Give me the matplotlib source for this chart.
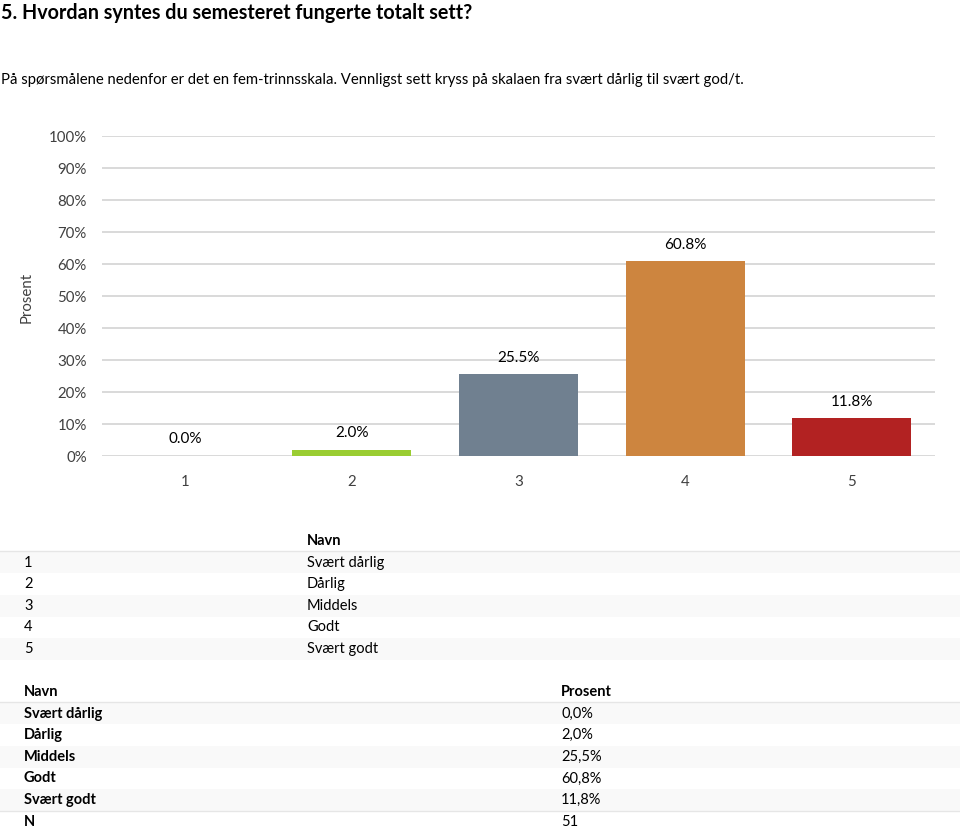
#!/usr/bin/env python3
"""Semester evaluation question 5: bar chart plus two summary tables -> out.png."""
import matplotlib
matplotlib.use("Agg")
import matplotlib.pyplot as plt
from matplotlib.patches import Rectangle

INK, MUTED, GRID, SHADE, LINE = "#000000", "#404040", "#d9d9d9", "#f9f9f9", "#e6e6e6"
plt.rcParams.update({"font.family": ["Lato", "DejaVu Sans"], "text.color": INK})

TITLE = "5. Hvordan syntes du semesteret fungerte totalt sett?"
SUBTITLE = ("På spørsmålene nedenfor er det en fem-trinnsskala. Vennligst sett kryss på skalaen "
            "fra svært dårlig til svært god/t.")

categories = ["1", "2", "3", "4", "5"]
names = ["Svært dårlig", "Dårlig", "Middels", "Godt", "Svært godt"]
percent = [0.0, 2.0, 25.5, 60.8, 11.8]
colors = ["#4f81bd", "#9acd32", "#708090", "#cd853f", "#b22222"]
n_total = 51

W, H = 960, 830
fig = plt.figure(figsize=(W / 100, H / 100), dpi=100)


def fx(px):
    return px / W


def fy(py):
    return 1 - py / H


fig.text(fx(1), fy(13), TITLE, fontsize=14.2, fontweight="bold", va="center", ha="left")
fig.text(fx(1), fy(80), SUBTITLE, fontsize=10.7, va="center", ha="left")

ax = fig.add_axes([fx(102), fy(456), fx(935) - fx(102), fy(136) - fy(456)])
x = range(1, len(categories) + 1)
ax.bar(x, percent, width=0.715, color=colors, zorder=3)
ax.set_xlim(0.5, len(categories) + 0.5)
ax.set_ylim(0, 100)
ax.set_yticks(range(0, 101, 10))
ax.set_yticklabels([f"{v}%" for v in range(0, 101, 10)], fontsize=10.8, color=MUTED)
ax.set_xticks(list(x))
ax.set_xticklabels(categories, fontsize=10.8, color=MUTED)
ax.tick_params(axis="both", length=0)
ax.tick_params(axis="y", pad=11)
ax.tick_params(axis="x", pad=14)
for s in ax.spines.values():
    s.set_visible(False)
ax.yaxis.grid(True, color=GRID, linewidth=1.4, zorder=0)
ax.set_axisbelow(True)
for xi, v in zip(x, percent):
    ax.text(xi, v + 3.0, f"{v:.1f}%", ha="center", va="bottom", fontsize=11, color=INK)
fig.text(fx(27), fy(297), "Prosent", rotation=90, ha="center", va="center", fontsize=10.8, color=MUTED)

# tables share a row height and faint banding
ROW = 21.6


def band(y_top, y_bot, color):
    fig.patches.append(Rectangle((0, fy(y_bot)), 1, fy(y_top) - fy(y_bot), transform=fig.transFigure,
                                 facecolor=color, edgecolor="none", zorder=0))


def hline(py):
    fig.add_artist(plt.Line2D([0, 1], [fy(py), fy(py)], transform=fig.transFigure, color=LINE, linewidth=1))


# table 1: number -> name
y0 = 541
fig.text(fx(307), fy(y0), "Navn", fontsize=10.5, fontweight="bold", va="center")
hline(y0 + 10)
for i, (c, nm) in enumerate(zip(categories, names)):
    yy = y0 + ROW * (i + 1)
    if i % 2 == 0:
        band(yy - ROW / 2, yy + ROW / 2, SHADE)
    fig.text(fx(24), fy(yy), c, fontsize=10.5, va="center")
    fig.text(fx(307), fy(yy), nm, fontsize=10.5, va="center")

# table 2: name -> percent
y1 = 692
fig.text(fx(24), fy(y1), "Navn", fontsize=10.5, fontweight="bold", va="center")
fig.text(fx(561), fy(y1), "Prosent", fontsize=10.5, fontweight="bold", va="center")
hline(y1 + 10)
for i, (nm, v) in enumerate(zip(names, percent)):
    yy = y1 + ROW * (i + 1)
    if i % 2 == 0:
        band(yy - ROW / 2, yy + ROW / 2, SHADE)
    fig.text(fx(24), fy(yy), nm, fontsize=10.5, fontweight="bold", va="center")
    fig.text(fx(561), fy(yy), f"{v:.1f}%".replace(".", ","), fontsize=10.5, va="center")
yn = y1 + ROW * (len(names) + 1)
hline(yn - ROW / 2)
fig.text(fx(24), fy(yn), "N", fontsize=10.5, fontweight="bold", va="center")
fig.text(fx(561), fy(yn), str(n_total), fontsize=10.5, va="center")

fig.savefig("out.png", dpi=100, facecolor="white")
